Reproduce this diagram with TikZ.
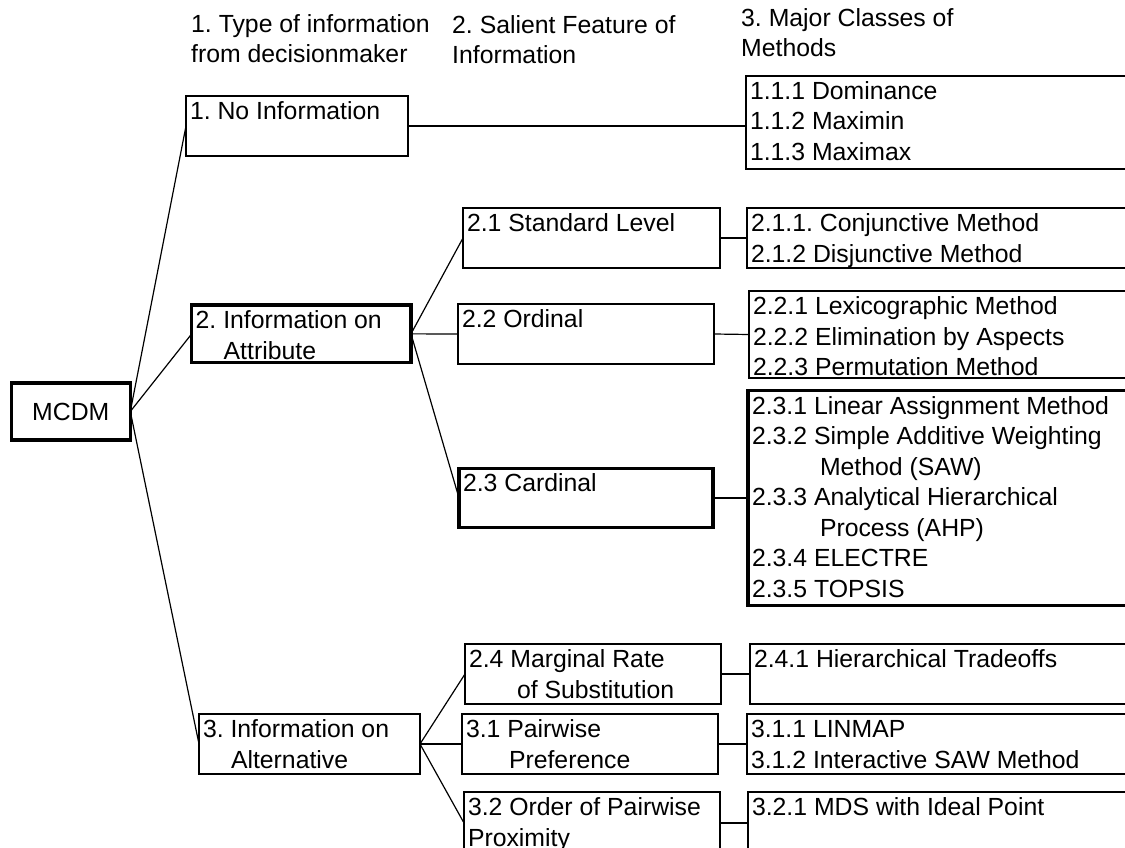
\documentclass[tikz,border=0pt]{standalone}
\usepackage{fontspec}
\setmainfont{Liberation Sans}
\frenchspacing
% invisible strut that fixes the height of the first text line in every box
\newcommand\firstline{\rule{0pt}{20pt}}
\begin{document}
\begin{tikzpicture}[x=1pt,y=-1pt,
  every node/.style={font=\fontsize{24.8}{30.5}\selectfont},
  box/.style={draw, line width=1.2pt, rectangle, anchor=north west, inner sep=0pt, outer sep=0pt},
  heavy/.style={box, line width=3.4pt},
  txt/.style={anchor=north west, inner xsep=4pt, inner ysep=3.5pt, align=left, outer sep=0pt},
  head/.style={anchor=north west, inner sep=0pt, align=left},
  link/.style={line width=1.2pt}
]
\useasboundingbox (0,0) rectangle (1125,848);

% column headings
\node[head] (h1) at (191,12) {\firstline 1. Type of information\\from decisionmaker};
\node[head] (h2) at (452,13) {\firstline 2. Salient Feature of\\Information};
\node[head] (h3) at (741,6) {\firstline 3. Major Classes of\\Methods};

% root
\node[heavy, minimum width=119pt, minimum height=57pt] (root) at (11.3,383) {MCDM};

% level 1: type of information
\node[box, minimum width=222pt, minimum height=60pt,
  label={[txt]north west:{\firstline 1. No Information}}] (noinfo) at (186,96) {};
\node[heavy, minimum width=219.3pt, minimum height=57.7pt,
  label={[txt]north west:{\firstline 2. Information on\\\hspace*{28pt}Attribute}}] (attr) at (191.7,305) {};
\node[box, minimum width=221pt, minimum height=60pt,
  label={[txt]north west:{\firstline 3. Information on\\\hspace*{28pt}Alternative}}] (alt) at (199,714) {};

% level 2: salient feature
\node[box, minimum width=257pt, minimum height=60pt,
  label={[txt]north west:{\firstline 2.1 Standard Level}}] (s21) at (463,208) {};
\node[box, minimum width=256pt, minimum height=60pt,
  label={[txt]north west:{\firstline 2.2 Ordinal}}] (s22) at (458,304) {};
\node[heavy, minimum width=254pt, minimum height=59.4pt,
  label={[txt]north west:{\firstline 2.3 Cardinal}}] (s23) at (459,468.3) {};
\node[box, minimum width=256pt, minimum height=60pt,
  label={[txt]north west:{\firstline 2.4 Marginal Rate\\\hspace*{48pt}of Substitution}}] (s24) at (465,644) {};
\node[box, minimum width=256pt, minimum height=60pt,
  label={[txt]north west:{\firstline 3.1 Pairwise\\\hspace*{43pt}Preference}}] (s31) at (462,714) {};
\node[box, minimum width=256pt, minimum height=62pt,
  label={[txt]north west:{\firstline 3.2 Order of Pairwise\\Proximity}}] (s32) at (464,792) {};

% level 3: classes of methods
\node[box, minimum width=384pt, minimum height=93pt,
  label={[txt]north west:{\firstline 1.1.1 Dominance\\1.1.2 Maximin\\1.1.3 Maximax}}] (m11) at (746,76) {};
\node[box, minimum width=383pt, minimum height=60pt,
  label={[txt]north west:{\firstline 2.1.1. Conjunctive Method\\2.1.2 Disjunctive Method}}] (m21) at (747,208) {};
\node[box, minimum width=381pt, minimum height=87pt,
  label={[txt]north west:{\firstline 2.2.1 Lexicographic Method\\2.2.2 Elimination by Aspects\\2.2.3 Permutation Method}}] (m22) at (749,291) {};
\node[heavy, minimum width=382pt, minimum height=214.6pt,
  label={[txt]north west:{\firstline 2.3.1 Linear Assignment Method\\2.3.2 Simple Additive Weighting\\\hspace*{68pt}Method (SAW)\\2.3.3 Analytical Hierarchical\\\hspace*{68pt}Process (AHP)\\2.3.4 ELECTRE\\2.3.5 TOPSIS}}] (m23) at (748,390.7) {};
\node[box, minimum width=380pt, minimum height=60pt,
  label={[txt]north west:{\firstline 2.4.1 Hierarchical Tradeoffs}}] (m24) at (750,644) {};
\node[box, minimum width=383pt, minimum height=60pt,
  label={[txt]north west:{\firstline 3.1.1 LINMAP\\3.1.2 Interactive SAW Method}}] (m31) at (747,714) {};
\node[box, minimum width=382pt, minimum height=62pt,
  label={[txt]north west:{\firstline 3.2.1 MDS with Ideal Point}}] (m32) at (748,792) {};

% connectors
\draw[link] (root.east) -- (noinfo.west);
\draw[link] (root.east) -- (attr.west);
\draw[link] (root.east) -- (alt.west);
\draw[link] (noinfo.east) -- (noinfo.east -| m11.west);
\draw[link] (attr.east) -- (s21.west);
\draw[link] (attr.east) -- (s22.west);
\draw[link] (attr.east) -- (s23.west);
\draw[link] (alt.east) -- (s24.west);
\draw[link] (alt.east) -- (s31.west);
\draw[link] (alt.east) -- (s32.west);
\draw[link] (s21.east) -- (m21.west);
\draw[link] (s22.east) -- (m22.west);
\draw[link] (s23.east) -- (m23.west);
\draw[link] (s24.east) -- (m24.west);
\draw[link] (s31.east) -- (m31.west);
\draw[link] (s32.east) -- (m32.west);
\end{tikzpicture}
\end{document}
